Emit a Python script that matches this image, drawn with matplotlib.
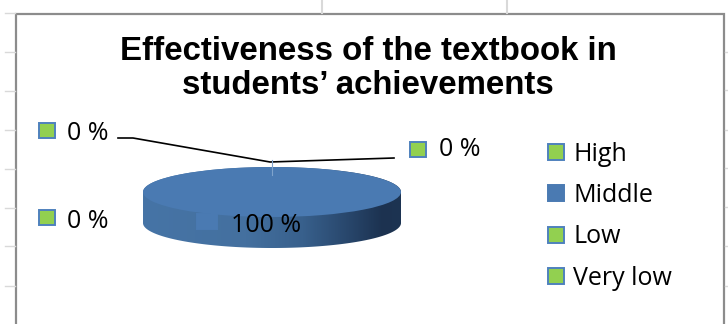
import numpy as np
import matplotlib
matplotlib.use("Agg")
import matplotlib.pyplot as plt
from matplotlib.colors import LinearSegmentedColormap
from matplotlib.patches import Patch, Polygon, Rectangle

# Survey shares by rating
categories = ["High", "Middle", "Low", "Very low"]
shares = [0, 100, 0, 0]
title_line_1 = "Effectiveness of the textbook in"
title_line_2 = "students\u2019 achievements"

W, H = 728, 324
GREEN, BLUE, EDGE = "#92d050", "#4a7ab2", "#4f81bd"
LABEL_FONT = "Open Sans"
LABEL_SIZE = 18
wedge_colors = [GREEN, BLUE, GREEN, GREEN]

fig = plt.figure(figsize=(W / 100, H / 100), dpi=100, facecolor="white")


def pixel_axes(zorder):
    ax = fig.add_axes([0, 0, 1, 1], zorder=zorder)
    ax.set_xlim(0, W)
    ax.set_ylim(H, 0)
    ax.axis("off")
    ax.patch.set_alpha(0)
    return ax


base = pixel_axes(0)

# Worksheet gridlines behind the embedded chart
for y in [13, 52, 91, 130, 169, 208, 246, 286]:
    base.plot([5, 15], [y, y], color="#d9d9d9", lw=1)
for y in [52, 90, 130, 168, 207, 246, 286]:
    base.plot([725, 728], [y, y], color="#d9d9d9", lw=1)
for x in [322, 507]:
    base.plot([x, x], [0, 13], color="#d9d9d9", lw=1.5)

# Chart frame
base.add_patch(Rectangle((16, 14), 708, 330, fc="white", ec="#8c8c8c", lw=1.6))

# Side wall of the disc, shaded left to right
cx, cy, rx, ry, depth = 272, 192, 129, 25, 31
shade = LinearSegmentedColormap.from_list(
    "side", [(0, "#4674a6"), (0.4, "#44709f"), (0.62, "#38608c"),
             (0.8, "#28466b"), (0.93, "#1c3250"), (1, "#1d3452")])
gradient = base.imshow(np.linspace(0, 1, 256)[None, :], cmap=shade, aspect="auto",
                       extent=(cx - rx, cx + rx, cy + depth + ry, cy - ry), zorder=2)
base.set_xlim(0, W)
base.set_ylim(H, 0)
t = np.linspace(0, np.pi, 200)
wall = np.vstack([
    np.column_stack([cx + rx * np.cos(t), cy + depth + ry * np.sin(t)]),
    np.column_stack([cx - rx * np.cos(t), cy - ry * np.sin(t)]),
])
clip = Polygon(wall, closed=True, transform=base.transData, fc="none", ec="none")
base.add_patch(clip)
gradient.set_clip_path(clip)

# Top face of the disc
pie_ax = fig.add_axes([(cx - rx) / W, 1 - (cy + ry) / H, 2 * rx / W, 2 * ry / H], zorder=1)
pie_ax.pie(shares, colors=wedge_colors, startangle=90, counterclock=False, radius=1)
pie_ax.set_aspect("auto")
pie_ax.set_xlim(-1, 1)
pie_ax.set_ylim(-1, 1)

top = pixel_axes(2)
for line, y in zip([title_line_1, title_line_2], [52, 86]):
    top.text(368, y, line, family="Liberation Sans", weight="bold", fontsize=23.8,
             ha="center", va="center", color="black")

# Data labels, each with its colour key
label_spots = [(39, 123, 67, 134), (197, 214, 231, 225), (410, 142, 439, 150), (39, 210, 67, 221)]
for share, color, (kx, ky, tx, ty) in zip(shares, wedge_colors, label_spots):
    edge = EDGE if color == GREEN else color
    top.add_patch(Rectangle((kx, ky), 16 if color == GREEN else 20, 15,
                            fc=color, ec=edge, lw=1.4, zorder=3))
    top.text(tx, ty, f"{share} %", family=LABEL_FONT, fontsize=LABEL_SIZE, va="center",
             ha="left", color="black", zorder=4)

# Leader lines for the zero-share slices
top.plot([118, 133, 270, 394], [138, 138, 162, 158], color="black", lw=1.2)
top.plot([272, 272], [160, 175], color="#7fa3cc", lw=0.8)

# Legend
handles = [Patch(fc=c, ec=EDGE if c == GREEN else c, lw=1.4) for c in wedge_colors]
legend = top.legend(handles, categories, loc="upper left", bbox_to_anchor=(548 / W, 1 - 142 / H),
                    bbox_transform=fig.transFigure, frameon=False, borderpad=0, borderaxespad=0,
                    handlelength=0.64, handleheight=0.6, handletextpad=0.36, labelspacing=0.65,
                    prop={"family": LABEL_FONT, "size": LABEL_SIZE})

fig.savefig("out.png", dpi=100)
